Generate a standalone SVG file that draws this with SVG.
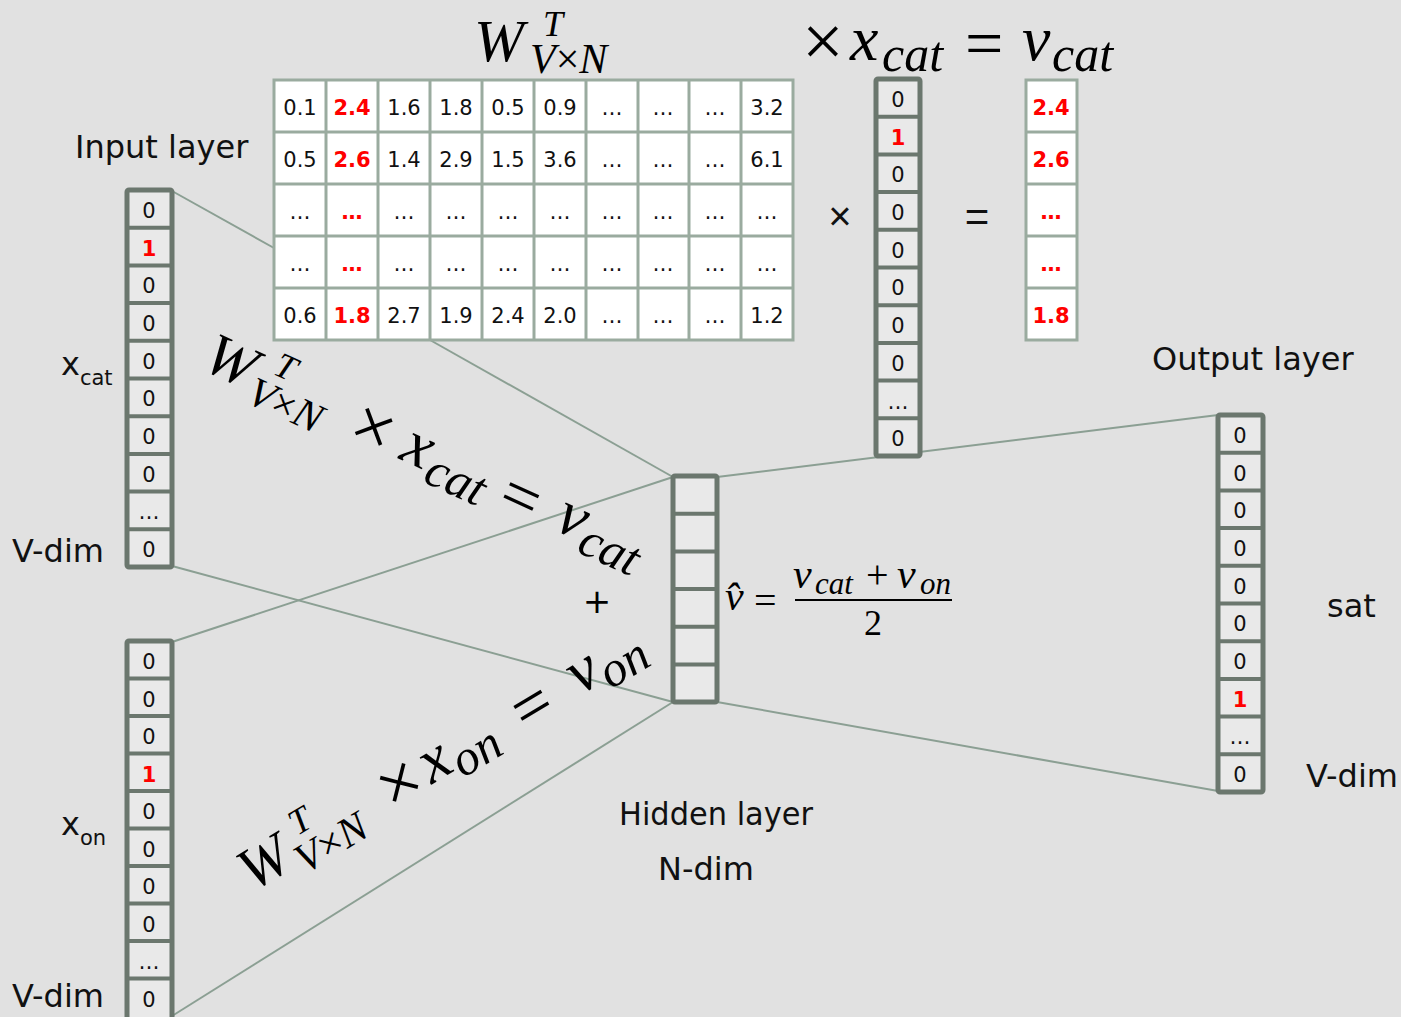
<svg xmlns="http://www.w3.org/2000/svg" width="1401" height="1017" viewBox="0 0 1401 1017">
<style>
.conn{stroke:#8b9f93;stroke-width:2;fill:none}
.vec{fill:#e9e9e9;stroke:#6b776e;stroke-width:5}
.sep{stroke:#6b776e;stroke-width:4}
.mat{fill:#fff;stroke:#9aab9f;stroke-width:3}
.mline{stroke:#9aab9f;stroke-width:3}
.d{font-family:"DejaVu Sans",sans-serif;font-size:21px;text-anchor:middle;fill:#111}
.r{fill:#f00;font-weight:bold}
.lbl{font-family:"DejaVu Sans",sans-serif;font-size:32px;fill:#111}
.m{font-family:"Liberation Serif",serif;font-style:italic;fill:#000}
.u{font-style:normal}
</style>
<rect width="1401" height="1017" fill="#e1e1e1"/>

<g id="connectors">
<line class="conn" x1="172" y1="191" x2="274" y2="248"/>
<line class="conn" x1="430" y1="340" x2="673" y2="477"/>
<line class="conn" x1="172" y1="566" x2="673" y2="702"/>
<line class="conn" x1="172" y1="642" x2="673" y2="477"/>
<line class="conn" x1="172" y1="1016" x2="673" y2="702"/>
<line class="conn" x1="717" y1="477" x2="1218" y2="415"/>
<line class="conn" x1="717" y1="702" x2="1218" y2="791"/>
</g>

<g id="matrix">
<rect class="mat" x="274" y="80" width="519" height="260"/>
<line class="mline" x1="326" y1="80" x2="326" y2="340"/>
<line class="mline" x1="378" y1="80" x2="378" y2="340"/>
<line class="mline" x1="430" y1="80" x2="430" y2="340"/>
<line class="mline" x1="482" y1="80" x2="482" y2="340"/>
<line class="mline" x1="534" y1="80" x2="534" y2="340"/>
<line class="mline" x1="586" y1="80" x2="586" y2="340"/>
<line class="mline" x1="638" y1="80" x2="638" y2="340"/>
<line class="mline" x1="689" y1="80" x2="689" y2="340"/>
<line class="mline" x1="741" y1="80" x2="741" y2="340"/>
<line class="mline" x1="274" y1="132" x2="793" y2="132"/>
<line class="mline" x1="274" y1="184" x2="793" y2="184"/>
<line class="mline" x1="274" y1="236" x2="793" y2="236"/>
<line class="mline" x1="274" y1="288" x2="793" y2="288"/>
<g class="d">
<text x="300" y="115">0.1</text><text class="r" x="352" y="115">2.4</text><text x="404" y="115">1.6</text><text x="456" y="115">1.8</text><text x="508" y="115">0.5</text><text x="560" y="115">0.9</text><text x="612" y="115">…</text><text x="663" y="115">…</text><text x="715" y="115">…</text><text x="767" y="115">3.2</text>
<text x="300" y="167">0.5</text><text class="r" x="352" y="167">2.6</text><text x="404" y="167">1.4</text><text x="456" y="167">2.9</text><text x="508" y="167">1.5</text><text x="560" y="167">3.6</text><text x="612" y="167">…</text><text x="663" y="167">…</text><text x="715" y="167">…</text><text x="767" y="167">6.1</text>
<text x="300" y="219">…</text><text class="r" x="352" y="219">…</text><text x="404" y="219">…</text><text x="456" y="219">…</text><text x="508" y="219">…</text><text x="560" y="219">…</text><text x="612" y="219">…</text><text x="663" y="219">…</text><text x="715" y="219">…</text><text x="767" y="219">…</text>
<text x="300" y="271">…</text><text class="r" x="352" y="271">…</text><text x="404" y="271">…</text><text x="456" y="271">…</text><text x="508" y="271">…</text><text x="560" y="271">…</text><text x="612" y="271">…</text><text x="663" y="271">…</text><text x="715" y="271">…</text><text x="767" y="271">…</text>
<text x="300" y="323">0.6</text><text class="r" x="352" y="323">1.8</text><text x="404" y="323">2.7</text><text x="456" y="323">1.9</text><text x="508" y="323">2.4</text><text x="560" y="323">2.0</text><text x="612" y="323">…</text><text x="663" y="323">…</text><text x="715" y="323">…</text><text x="767" y="323">1.2</text>
</g>
</g>

<g id="xcat-vector-mid">
<rect class="vec" x="876" y="79" width="44" height="377" rx="2"/>
<line class="sep" x1="876" y1="116.7" x2="920" y2="116.7"/>
<line class="sep" x1="876" y1="154.4" x2="920" y2="154.4"/>
<line class="sep" x1="876" y1="192.1" x2="920" y2="192.1"/>
<line class="sep" x1="876" y1="229.8" x2="920" y2="229.8"/>
<line class="sep" x1="876" y1="267.5" x2="920" y2="267.5"/>
<line class="sep" x1="876" y1="305.2" x2="920" y2="305.2"/>
<line class="sep" x1="876" y1="342.9" x2="920" y2="342.9"/>
<line class="sep" x1="876" y1="380.6" x2="920" y2="380.6"/>
<line class="sep" x1="876" y1="418.3" x2="920" y2="418.3"/>
<g class="d">
<text x="898" y="107">0</text><text class="r" x="898" y="145">1</text><text x="898" y="182">0</text><text x="898" y="220">0</text><text x="898" y="258">0</text><text x="898" y="295">0</text><text x="898" y="333">0</text><text x="898" y="371">0</text><text x="898" y="409">…</text><text x="898" y="446">0</text>
</g>
</g>

<g id="vcat-result">
<rect class="mat" x="1026" y="80" width="51" height="260"/>
<line class="mline" x1="1026" y1="132" x2="1077" y2="132"/>
<line class="mline" x1="1026" y1="184" x2="1077" y2="184"/>
<line class="mline" x1="1026" y1="236" x2="1077" y2="236"/>
<line class="mline" x1="1026" y1="288" x2="1077" y2="288"/>
<g class="d">
<text class="r" x="1051" y="115">2.4</text><text class="r" x="1051" y="167">2.6</text><text class="r" x="1051" y="219">…</text><text class="r" x="1051" y="271">…</text><text class="r" x="1051" y="323">1.8</text>
</g>
</g>

<g id="ops">
<text x="840" y="230" font-family="Liberation Sans, sans-serif" font-size="40" text-anchor="middle" fill="#111">×</text>
<text x="977" y="231" font-family="Liberation Sans, sans-serif" font-size="42" text-anchor="middle" fill="#111">=</text>
</g>

<g id="input-xcat">
<rect class="vec" x="127" y="190" width="45" height="377" rx="2"/>
<line class="sep" x1="127" y1="227.7" x2="172" y2="227.7"/>
<line class="sep" x1="127" y1="265.4" x2="172" y2="265.4"/>
<line class="sep" x1="127" y1="303.1" x2="172" y2="303.1"/>
<line class="sep" x1="127" y1="340.8" x2="172" y2="340.8"/>
<line class="sep" x1="127" y1="378.5" x2="172" y2="378.5"/>
<line class="sep" x1="127" y1="416.2" x2="172" y2="416.2"/>
<line class="sep" x1="127" y1="453.9" x2="172" y2="453.9"/>
<line class="sep" x1="127" y1="491.6" x2="172" y2="491.6"/>
<line class="sep" x1="127" y1="529.3" x2="172" y2="529.3"/>
<g class="d">
<text x="149" y="218">0</text><text class="r" x="149" y="256">1</text><text x="149" y="293">0</text><text x="149" y="331">0</text><text x="149" y="369">0</text><text x="149" y="406">0</text><text x="149" y="444">0</text><text x="149" y="482">0</text><text x="149" y="519">…</text><text x="149" y="557">0</text>
</g>
<text class="lbl" x="75" y="158">Input layer</text>
<text class="lbl" x="61" y="375" font-size="30">x<tspan font-size="21" dy="10">cat</tspan></text>
<text class="lbl" x="12" y="562">V-dim</text>
</g>

<g id="input-xon">
<rect class="vec" x="127" y="641" width="45" height="380" rx="2"/>
<line class="sep" x1="127" y1="678.5" x2="172" y2="678.5"/>
<line class="sep" x1="127" y1="716" x2="172" y2="716"/>
<line class="sep" x1="127" y1="753.5" x2="172" y2="753.5"/>
<line class="sep" x1="127" y1="791" x2="172" y2="791"/>
<line class="sep" x1="127" y1="828.5" x2="172" y2="828.5"/>
<line class="sep" x1="127" y1="866" x2="172" y2="866"/>
<line class="sep" x1="127" y1="903.5" x2="172" y2="903.5"/>
<line class="sep" x1="127" y1="941" x2="172" y2="941"/>
<line class="sep" x1="127" y1="978.5" x2="172" y2="978.5"/>
<g class="d">
<text x="149" y="669">0</text><text x="149" y="707">0</text><text x="149" y="744">0</text><text class="r" x="149" y="782">1</text><text x="149" y="819">0</text><text x="149" y="857">0</text><text x="149" y="894">0</text><text x="149" y="932">0</text><text x="149" y="969">…</text><text x="149" y="1007">0</text>
</g>
<text class="lbl" x="61" y="835" font-size="30">x<tspan font-size="21" dy="10">on</tspan></text>
<text class="lbl" x="12" y="1007">V-dim</text>
</g>

<g id="hidden">
<rect class="vec" x="673" y="476" width="44" height="226" rx="2"/>
<line class="sep" x1="673" y1="513.7" x2="717" y2="513.7"/>
<line class="sep" x1="673" y1="551.4" x2="717" y2="551.4"/>
<line class="sep" x1="673" y1="589.1" x2="717" y2="589.1"/>
<line class="sep" x1="673" y1="626.8" x2="717" y2="626.8"/>
<line class="sep" x1="673" y1="664.5" x2="717" y2="664.5"/>
<text class="lbl" x="619" y="825" textLength="194" lengthAdjust="spacingAndGlyphs">Hidden layer</text>
<text class="lbl" x="658" y="880">N-dim</text>
</g>

<g id="output">
<rect class="vec" x="1218" y="415" width="45" height="377" rx="2"/>
<line class="sep" x1="1218" y1="452.7" x2="1263" y2="452.7"/>
<line class="sep" x1="1218" y1="490.4" x2="1263" y2="490.4"/>
<line class="sep" x1="1218" y1="528.1" x2="1263" y2="528.1"/>
<line class="sep" x1="1218" y1="565.8" x2="1263" y2="565.8"/>
<line class="sep" x1="1218" y1="603.5" x2="1263" y2="603.5"/>
<line class="sep" x1="1218" y1="641.2" x2="1263" y2="641.2"/>
<line class="sep" x1="1218" y1="678.9" x2="1263" y2="678.9"/>
<line class="sep" x1="1218" y1="716.6" x2="1263" y2="716.6"/>
<line class="sep" x1="1218" y1="754.3" x2="1263" y2="754.3"/>
<g class="d">
<text x="1240" y="443">0</text><text x="1240" y="481">0</text><text x="1240" y="518">0</text><text x="1240" y="556">0</text><text x="1240" y="594">0</text><text x="1240" y="631">0</text><text x="1240" y="669">0</text><text class="r" x="1240" y="707">1</text><text x="1240" y="744">…</text><text x="1240" y="782">0</text>
</g>
<text class="lbl" x="1152" y="370">Output layer</text>
<text class="lbl" x="1327" y="617">sat</text>
<text class="lbl" x="1306" y="787">V-dim</text>
</g>

<g id="eq-top" class="m">
<text x="474" y="61" font-size="60">W</text>
<text x="543" y="36" font-size="36">T</text>
<text x="530" y="73" font-size="42">V<tspan class="u">×</tspan>N</text>
<text x="802" y="66" font-size="74" class="u">×</text>
<text x="850" y="60" font-size="64">x</text>
<text x="882" y="71" font-size="50">cat</text>
<text x="965" y="66" font-size="68" class="u">=</text>
<text x="1022" y="60" font-size="64">v</text>
<text x="1052" y="71" font-size="50">cat</text>
</g>

<g id="eq-cat" class="m" transform="translate(204,370) rotate(24.5)">
<text x="-4" y="0" font-size="60">W</text>
<text x="63" y="-25" font-size="36">T</text>
<text x="50" y="12" font-size="42">V<tspan class="u">×</tspan>N</text>
<text x="157" y="6" font-size="74" class="u">×</text>
<text x="213" y="0" font-size="64">x</text>
<text x="244" y="11" font-size="50">cat</text>
<text x="322" y="6" font-size="68" class="u">=</text>
<text x="383" y="0" font-size="64">v</text>
<text x="413" y="11" font-size="50">cat</text>
</g>

<text x="597" y="613" font-family="DejaVu Sans, sans-serif" font-size="34" text-anchor="middle" fill="#000">+</text>

<g id="eq-on" class="m" transform="translate(256,890) rotate(-31)">
<text x="-4" y="0" font-size="60">W</text>
<text x="63" y="-25" font-size="36">T</text>
<text x="50" y="12" font-size="42">V<tspan class="u">×</tspan>N</text>
<text x="157" y="6" font-size="74" class="u">×</text>
<text x="205" y="0" font-size="64">x</text>
<text x="235" y="11" font-size="50">on</text>
<text x="312" y="6" font-size="68" class="u">=</text>
<text x="378" y="0" font-size="64">v</text>
<text x="407" y="11" font-size="50">on</text>
</g>

<g id="eq-mean" class="m">
<text x="725" y="610" font-size="42">v̂</text>
<text x="754" y="614" font-size="40" class="u">=</text>
<text x="793" y="588" font-size="42">v</text>
<text x="815" y="594" font-size="31">cat</text>
<text x="866" y="588" font-size="40" class="u">+</text>
<text x="897" y="588" font-size="42">v</text>
<text x="920" y="594" font-size="31">on</text>
<line x1="795" y1="600" x2="952" y2="600" stroke="#000" stroke-width="2"/>
<text x="864" y="635" font-size="36" class="u">2</text>
</g>
</svg>
